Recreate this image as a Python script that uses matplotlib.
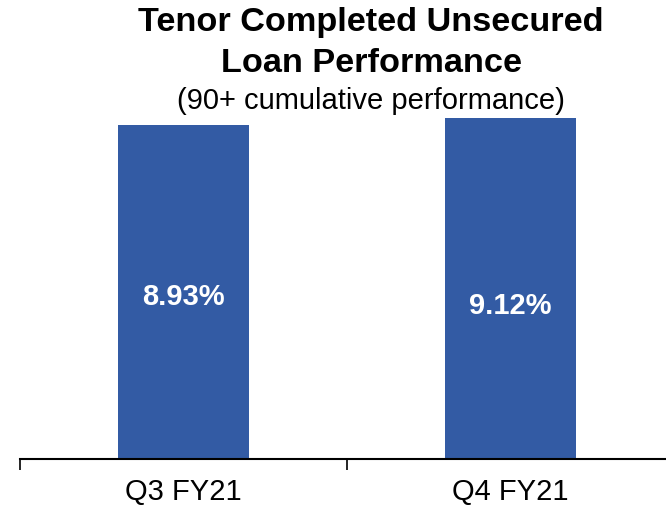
import matplotlib
matplotlib.use("Agg")
import matplotlib.pyplot as plt

plt.rcParams['font.family'] = ['Liberation Sans', 'DejaVu Sans']

categories = ["Q3 FY21", "Q4 FY21"]
values = [8.93, 9.12]
value_labels = ["8.93%", "9.12%"]
label_y = [4.32, 4.1]

bar_color = "#335BA4"

fig = plt.figure(figsize=(6.66, 5.07), dpi=100)
ax = fig.add_axes([20 / 666, 48 / 507, 654 / 666, 374 / 507])

x = list(range(len(categories)))
ax.bar(x, values, width=0.4, color=bar_color)

for xi, ly, txt in zip(x, label_y, value_labels):
    ax.text(xi, ly, txt, ha="center", va="center", color="white",
            fontsize=21, fontweight="bold")

ax.set_xlim(-0.5, 1.5)
ax.set_ylim(0, 10)

for side in ["top", "right", "left"]:
    ax.spines[side].set_visible(False)
ax.spines["bottom"].set_linewidth(1.5)
ax.spines["bottom"].set_color("black")
ax.set_yticks([])

ax.set_xticks(x)
ax.set_xticklabels(categories, fontsize=21)
ax.tick_params(axis="x", which="major", length=0, pad=14)
ax.set_xticks([-0.5, 0.5, 1.5], minor=True)
ax.tick_params(axis="x", which="minor", length=8, width=1.2, color="black")

fig.text(371 / 666, 1 - 23 / 507, "Tenor Completed Unsecured", ha="center", va="center",
         fontsize=24.7, fontweight="bold")
fig.text(371 / 666, 1 - 63 / 507, "Loan Performance", ha="center", va="center",
         fontsize=24.7, fontweight="bold")
fig.text(371 / 666, 1 - 101 / 507, "(90+ cumulative performance)", ha="center", va="center",
         fontsize=21)

fig.savefig("out.png", dpi=100)
